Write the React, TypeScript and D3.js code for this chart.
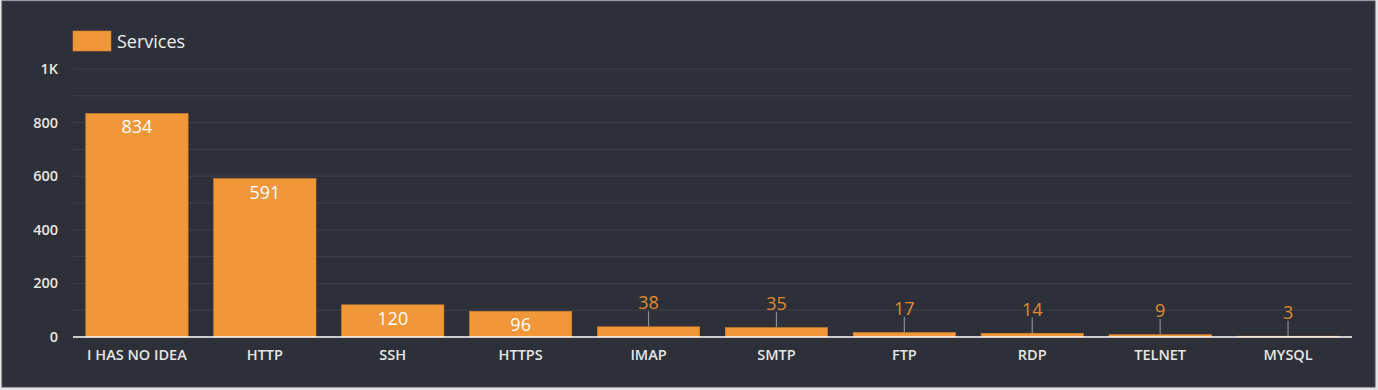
import React from 'react';
import * as d3 from 'd3';

// chart size
const width = 1378;
const height = 390;
const margin = { top: 69, right: 26, bottom: 53, left: 73 };

// data
const services = ['I HAS NO IDEA', 'HTTP', 'SSH', 'HTTPS', 'IMAP', 'SMTP', 'FTP', 'RDP', 'TELNET', 'MYSQL'];
const counts = [834, 591, 120, 96, 38, 35, 17, 14, 9, 3];
const yTicks = [0, 200, 400, 600, 800, 1000];
const gridTicks = [0, 100, 200, 300, 400, 500, 600, 700, 800, 900, 1000];
const seriesName = 'Services';

const orange = '#f0973a';
const font = '"Open Sans", "Noto Sans", sans-serif';

export default function App() {
    const x = d3.scaleBand<string>()
        .domain(services)
        .range([margin.left, width - margin.right])
        .paddingInner(0.2)
        .paddingOuter(0.1);

    const y = d3.scaleLinear()
        .domain([0, 1000])
        .range([height - margin.bottom, margin.top]);

    const fmt = (v: number) => (v >= 1000 ? d3.format('~s')(v).toUpperCase() : String(v));

    return (
        <svg width={width} height={height} style={{ position: 'absolute', left: 0, top: 0, display: 'block' }}>
            <rect x={0} y={0} width={width} height={height} fill="#e4e4e6" />
            <rect x={2} y={1} width={1373} height={386} fill="#2d3038" stroke="#4a4d55" strokeWidth={1} />

            {/* gridlines */}
            {gridTicks.map(t => (
                <line key={'g' + t} x1={margin.left} x2={width - margin.right} y1={y(t)} y2={y(t)}
                    stroke="#3d4048" strokeWidth={1} />
            ))}

            {/* y tick labels */}
            {yTicks.map(t => (
                <text key={'y' + t} x={58} y={y(t)} dy="0.35em" textAnchor="end" fill="#e6e6e6"
                    fontFamily={font} fontWeight={600} fontSize={14.5}>{fmt(t)}</text>
            ))}

            {/* bars */}
            {services.map((s, i) => {
                const v = counts[i];
                const bx = x(s)!;
                const by = y(v);
                const bh = y(0) - by;
                const cx = bx + x.bandwidth() / 2;
                const inside = bh > 20;
                return (
                    <g key={s}>
                        <rect x={bx} y={by} width={x.bandwidth()} height={bh} fill={orange}
                            stroke="#d8822b" strokeWidth={0.6} />
                        {inside ? (
                            <text x={cx} y={by + 20} textAnchor="middle" fill="#ffffff" fontFamily={font}
                                fontSize={18}>{v}</text>
                        ) : (
                            <g>
                                <line x1={cx} x2={cx} y1={by} y2={by - 15.5} stroke="#8a8c92" strokeWidth={1.2} />
                                <text x={cx} y={by - 17.5} textAnchor="middle" fill="#e08a2e" fontFamily={font}
                                    fontSize={18}>{v}</text>
                            </g>
                        )}
                        <text x={cx} y={y(0) + 23} textAnchor="middle" fill="#e6e6e6" fontFamily={font}
                            fontWeight={600} fontSize={14.5}>{s}</text>
                    </g>
                );
            })}

            {/* axis line */}
            <line x1={margin.left} x2={width - margin.right} y1={y(0)} y2={y(0)} stroke="#ffffff" strokeWidth={1.5} />

            {/* legend */}
            <rect x={73} y={31} width={38} height={20} fill={orange} stroke="#d8822b" strokeWidth={0.6} />
            <text x={117} y={47.5} fill="#eeeeee" fontFamily={font} fontSize={18}>{seriesName}</text>
        </svg>
    );
}
